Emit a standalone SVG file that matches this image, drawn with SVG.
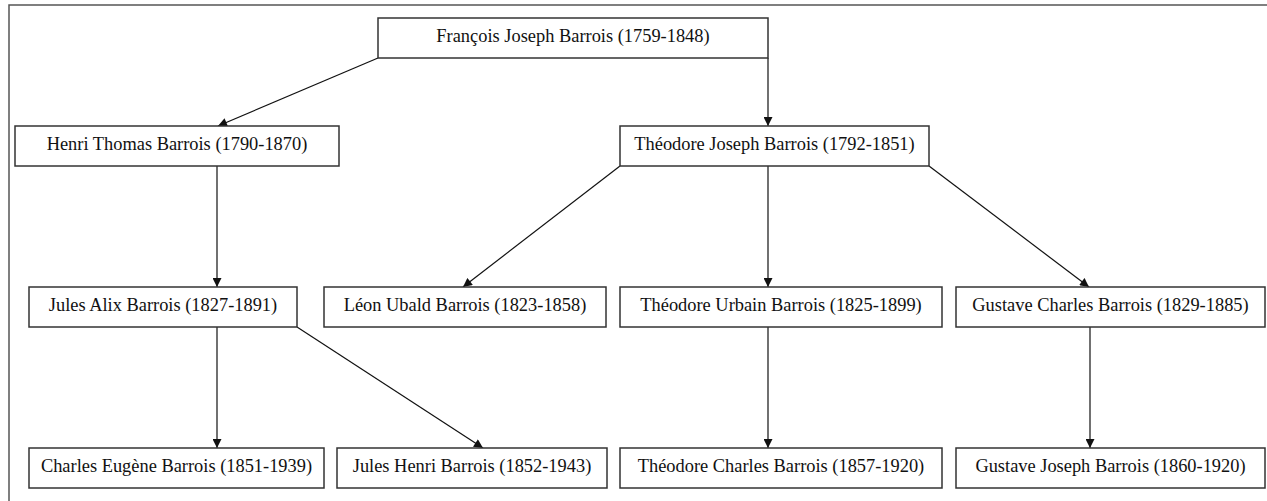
<svg xmlns="http://www.w3.org/2000/svg" width="1267" height="501" viewBox="0 0 1267 501">
<defs>
<style>
.box{fill:#fff;stroke:#333;stroke-width:1.5}
.lbl{font-family:"Liberation Serif","Times New Roman",serif;font-size:18.4px;fill:#111;text-anchor:middle}
.edge{stroke:#111;stroke-width:1.2;fill:none;marker-end:url(#arr)}
</style>
<marker id="arr" viewBox="0 0 10 10" refX="10" refY="5" markerWidth="10" markerHeight="9" markerUnits="userSpaceOnUse" orient="auto">
<path d="M0,0 L10,5 L0,10 z" fill="#111"/>
</marker>
</defs>
<rect width="1267" height="501" fill="#fff"/>
<path d="M9,510 V5 H1280" fill="none" stroke="#555" stroke-width="1.5"/>
<g id="connectors">
<line class="edge" x1="378" y1="58" x2="218" y2="126"/>
<line class="edge" x1="768" y1="58" x2="768" y2="126"/>
<line class="edge" x1="217" y1="166" x2="217" y2="287"/>
<line class="edge" x1="620" y1="166" x2="463" y2="287"/>
<line class="edge" x1="768" y1="166" x2="768" y2="287"/>
<line class="edge" x1="929" y1="166" x2="1089" y2="287"/>
<line class="edge" x1="217" y1="327" x2="217" y2="448"/>
<line class="edge" x1="297" y1="327" x2="483" y2="448"/>
<line class="edge" x1="768" y1="327" x2="768" y2="448"/>
<line class="edge" x1="1090" y1="327" x2="1090" y2="448"/>
</g>
<g id="n_francois"><rect class="box" x="378" y="18" width="390" height="40"/><text class="lbl" x="573" y="41.5">François Joseph Barrois (1759-1848)</text></g>
<g id="n_henri"><rect class="box" x="15" y="126" width="324" height="40"/><text class="lbl" x="177" y="149.5">Henri Thomas Barrois (1790-1870)</text></g>
<g id="n_theodore_joseph"><rect class="box" x="620" y="126" width="309" height="40"/><text class="lbl" x="774.5" y="149.5">Théodore Joseph Barrois (1792-1851)</text></g>
<g id="n_jules_alix"><rect class="box" x="29" y="287" width="268" height="40"/><text class="lbl" x="163" y="310.5">Jules Alix Barrois (1827-1891)</text></g>
<g id="n_leon"><rect class="box" x="324" y="287" width="282" height="40"/><text class="lbl" x="465" y="310.5">Léon Ubald Barrois (1823-1858)</text></g>
<g id="n_theodore_urbain"><rect class="box" x="620" y="287" width="322" height="40"/><text class="lbl" x="781" y="310.5">Théodore Urbain Barrois (1825-1899)</text></g>
<g id="n_gustave_charles"><rect class="box" x="956" y="287" width="309" height="40"/><text class="lbl" x="1110.5" y="310.5">Gustave Charles Barrois (1829-1885)</text></g>
<g id="n_charles_eugene"><rect class="box" x="29" y="448" width="295" height="40"/><text class="lbl" x="176.5" y="471.5">Charles Eugène Barrois (1851-1939)</text></g>
<g id="n_jules_henri"><rect class="box" x="337" y="448" width="270" height="40"/><text class="lbl" x="472" y="471.5">Jules Henri Barrois (1852-1943)</text></g>
<g id="n_theodore_charles"><rect class="box" x="620" y="448" width="322" height="40"/><text class="lbl" x="781" y="471.5">Théodore Charles Barrois (1857-1920)</text></g>
<g id="n_gustave_joseph"><rect class="box" x="956" y="448" width="309" height="40"/><text class="lbl" x="1110.5" y="471.5">Gustave Joseph Barrois (1860-1920)</text></g>
</svg>
